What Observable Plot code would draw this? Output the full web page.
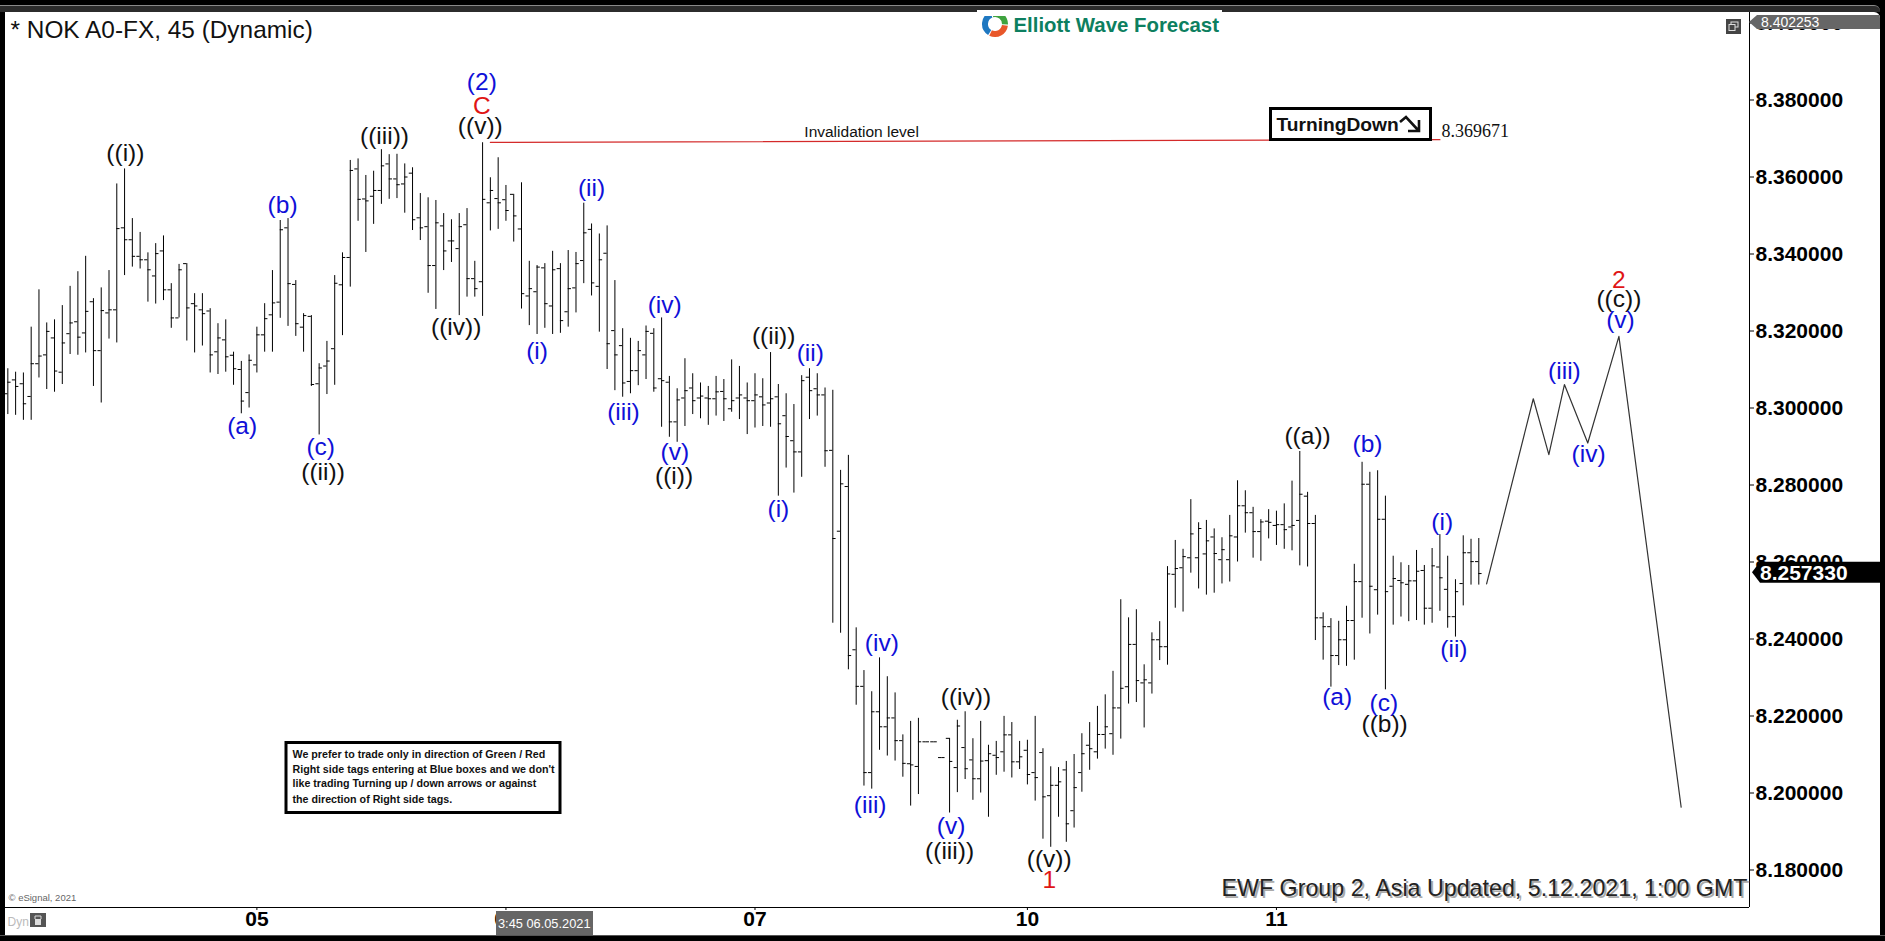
<!DOCTYPE html>
<html><head><meta charset="utf-8">
<script src="https://cdn.jsdelivr.net/npm/d3@7"></script>
<script src="https://cdn.jsdelivr.net/npm/@observablehq/plot@0.6"></script>
<style>
html,body{margin:0;padding:0;background:#000;width:1885px;height:941px;overflow:hidden}
#band{position:absolute;left:0;top:5px;width:1880px;height:7px;background:#2c2c2c;border-top:1px solid #8a8a8a;box-sizing:border-box;border-top-right-radius:6px}
#logoBack{position:absolute;left:977px;top:10px;width:245px;height:6px;background:#fff}
#foot{position:absolute;left:0;top:935px;width:1885px;height:1px;background:#555}
#chart{position:absolute;left:5px;top:12px}
#chart svg{display:block;border-bottom:0}
</style></head><body>
<div id="band"></div><div id="foot"></div><div id="chart"></div><div id="logoBack"></div>
<script>
const highs=[
8.3102,8.3093,8.3091,8.3210,8.3307,8.3221,8.3229,8.3266,8.3316,8.3354,
8.3394,8.3284,8.3312,8.3357,8.3582,8.3621,8.3492,8.3456,8.3403,8.3427,
8.3447,8.3323,8.3373,8.3375,8.3297,8.3297,8.3258,8.3219,8.3229,8.3145,
8.3121,8.3138,8.3210,8.3271,8.3357,8.3487,8.3492,8.3331,8.3245,8.3240,
8.3115,8.3173,8.3344,8.3403,8.3643,8.3647,8.3604,8.3615,8.3671,8.3658,
8.3659,8.3634,8.3624,8.3557,8.3546,8.3539,8.3505,8.3489,8.3505,8.3518,
8.3381,8.3689,8.3598,8.3650,8.3578,8.3555,8.3585,8.3381,8.3370,8.3375,
8.3407,8.3375,8.3409,8.3404,8.3532,8.3478,8.3452,8.3473,8.3331,8.3206,
8.3181,8.3173,8.3213,8.3206,8.3234,8.3082,8.3050,8.3128,8.3089,8.3065,
8.3056,8.3082,8.3074,8.3125,8.3108,8.3065,8.3089,8.3076,8.3144,8.3061,
8.3037,8.3009,8.3084,8.3102,8.3089,8.3052,8.3046,8.2838,8.2877,8.2429,
8.2318,8.2263,8.2351,8.2302,8.2260,8.2151,8.2186,8.2194,8.2133,8.2133,
8.2092,8.2142,8.2189,8.2211,8.2141,8.2186,8.2124,8.2134,8.2199,8.2183,
8.2134,8.2137,8.2199,8.2115,8.2068,8.2066,8.2082,8.2100,8.2154,8.2183,
8.2225,8.2255,8.2316,8.2502,8.2455,8.2476,8.2333,8.2416,8.2445,8.2588,
8.2656,8.2633,8.2762,8.2702,8.2708,8.2686,8.2663,8.2721,8.2811,8.2785,
8.2742,8.2710,8.2736,8.2732,8.2751,8.2810,8.2887,8.2781,8.2721,8.2468,
8.2453,8.2446,8.2485,8.2594,8.2859,8.2833,8.2837,8.2771,8.2615,8.2598,
8.2591,8.2630,8.2591,8.2635,8.2671,8.2615,8.2554,8.2668,8.2659,8.2661];
const lows=[
8.2983,8.2981,8.2968,8.2968,8.3078,8.3048,8.3041,8.3061,8.3139,8.3137,
8.3143,8.3056,8.3013,8.3179,8.3169,8.3344,8.3366,8.3361,8.3275,8.3270,
8.3279,8.3207,8.3234,8.3174,8.3143,8.3161,8.3091,8.3087,8.3093,8.3059,
8.2985,8.3000,8.3091,8.3145,8.3145,8.3233,8.3212,8.3186,8.3145,8.3056,
8.2930,8.3035,8.3059,8.3188,8.3314,8.3485,8.3404,8.3477,8.3529,8.3542,
8.3544,8.3506,8.3461,8.3435,8.3298,8.3256,8.3357,8.3378,8.3240,8.3288,
8.3288,8.3238,8.3460,8.3464,8.3485,8.3431,8.3257,8.3214,8.3191,8.3207,
8.3191,8.3194,8.3210,8.3247,8.3323,8.3291,8.3197,8.3100,8.3045,8.3028,
8.3037,8.3058,8.3074,8.3041,8.2950,8.2924,8.2911,8.2952,8.2983,8.2972,
8.2955,8.2979,8.2965,8.2989,8.2970,8.2931,8.2948,8.2952,8.2950,8.2771,
8.2844,8.2779,8.2820,8.2970,8.2979,8.2846,8.2441,8.2415,8.2320,8.2228,
8.2018,8.2010,8.2111,8.2096,8.2083,8.2041,8.1966,8.1996,8.2133,8.2133,
8.2092,8.1948,8.2001,8.2035,8.1981,8.2000,8.1937,8.2046,8.2054,8.2039,
8.2061,8.2021,8.1979,8.1880,8.1859,8.1937,8.1872,8.1909,8.2002,8.2059,
8.2088,8.2114,8.2098,8.2140,8.2231,8.2235,8.2169,8.2257,8.2344,8.2332,
8.2480,8.2470,8.2571,8.2530,8.2514,8.2519,8.2543,8.2548,8.2600,8.2675,
8.2610,8.2602,8.2660,8.2643,8.2633,8.2629,8.2590,8.2587,8.2396,8.2345,
8.2275,8.2331,8.2329,8.2345,8.2454,8.2413,8.2462,8.2268,8.2436,8.2457,
8.2445,8.2448,8.2436,8.2441,8.2472,8.2428,8.2405,8.2486,8.2540,8.2540];
const opens=[
8.3037,8.3073,8.3063,8.3030,8.3115,8.3138,8.3182,8.3093,8.3193,8.3224,
8.3195,8.3276,8.3149,8.3247,8.3255,8.3468,8.3437,8.3394,8.3385,8.3343,
8.3408,8.3307,8.3234,8.3375,8.3271,8.3255,8.3252,8.3146,8.3177,8.3137,
8.3100,8.3040,8.3112,8.3190,8.3242,8.3275,8.3468,8.3321,8.3210,8.3238,
8.3063,8.3109,8.3154,8.3320,8.3391,8.3621,8.3543,8.3550,8.3565,8.3634,
8.3595,8.3582,8.3610,8.3494,8.3471,8.3370,8.3473,8.3434,8.3414,8.3476,
8.3336,8.3328,8.3533,8.3544,8.3541,8.3555,8.3465,8.3291,8.3302,8.3364,
8.3265,8.3362,8.3250,8.3312,8.3383,8.3464,8.3316,8.3402,8.3201,8.3162,
8.3069,8.3097,8.3138,8.3194,8.3076,8.3067,8.2964,8.3026,8.3052,8.3026,
8.3026,8.3024,8.3043,8.2998,8.3026,8.3026,8.3019,8.3029,8.3013,8.3029,
8.2980,8.2915,8.2886,8.3080,8.3050,8.3034,8.2890,8.2680,8.2796,8.2372,
8.2277,8.2053,8.2211,8.2172,8.2195,8.2136,8.2076,8.2069,8.2133,8.2133,
8.2092,8.2142,8.2066,8.2118,8.2086,8.2037,8.2084,8.2098,8.2107,8.2151,
8.2081,8.2111,8.2053,8.2105,8.1993,8.2020,8.2060,8.1954,8.2053,8.2124,
8.2107,8.2152,8.2154,8.2221,8.2276,8.2386,8.2286,8.2286,8.2398,8.2380,
8.2568,8.2585,8.2611,8.2611,8.2621,8.2665,8.2606,8.2606,8.2665,8.2746,
8.2728,8.2679,8.2706,8.2695,8.2697,8.2691,8.2708,8.2771,8.2700,8.2455,
8.2432,8.2357,8.2398,8.2448,8.2549,8.2802,8.2528,8.2711,8.2537,8.2552,
8.2542,8.2551,8.2578,8.2480,8.2587,8.2529,8.2458,8.2544,8.2624,8.2601];
const closes=[
8.3067,8.3056,8.3011,8.3115,8.3135,8.3199,8.3096,8.3169,8.3221,8.3184,
8.3251,8.3149,8.3253,8.3255,8.3466,8.3437,8.3394,8.3385,8.3359,8.3401,
8.3307,8.3234,8.3359,8.3260,8.3265,8.3245,8.3138,8.3182,8.3133,8.3102,
8.3018,8.3124,8.3190,8.3232,8.3273,8.3463,8.3323,8.3219,8.3240,8.3061,
8.3104,8.3122,8.3324,8.3391,8.3617,8.3542,8.3538,8.3565,8.3629,8.3595,
8.3580,8.3600,8.3489,8.3468,8.3370,8.3481,8.3408,8.3434,8.3471,8.3336,
8.3310,8.3542,8.3565,8.3533,8.3513,8.3499,8.3297,8.3310,8.3366,8.3271,
8.3359,8.3227,8.3310,8.3375,8.3455,8.3325,8.3385,8.3167,8.3138,8.3065,
8.3097,8.3149,8.3199,8.3052,8.3071,8.2964,8.3021,8.3045,8.3019,8.3031,
8.3024,8.3042,8.3024,8.3019,8.3034,8.3019,8.3034,8.3008,8.3024,8.2959,
8.2926,8.2886,8.3071,8.3045,8.3034,8.2889,8.2661,8.2803,8.2357,8.2277,
8.2053,8.2211,8.2172,8.2195,8.2136,8.2077,8.2073,8.2133,8.2133,8.2133,
8.2092,8.2082,8.2174,8.2063,8.2037,8.2083,8.2102,8.2092,8.2151,8.2081,
8.2094,8.2048,8.2040,8.1990,8.2020,8.2029,8.1920,8.2014,8.2102,8.2115,
8.2152,8.2172,8.2221,8.2272,8.2386,8.2292,8.2294,8.2398,8.2380,8.2569,
8.2583,8.2614,8.2673,8.2687,8.2655,8.2622,8.2632,8.2668,8.2746,8.2728,
8.2679,8.2704,8.2703,8.2697,8.2684,8.2695,8.2776,8.2700,8.2455,8.2432,
8.2357,8.2398,8.2448,8.2549,8.2802,8.2537,8.2711,8.2523,8.2557,8.2546,
8.2551,8.2576,8.2480,8.2590,8.2559,8.2458,8.2523,8.2624,8.2601,8.2570];

const yTicks=[8.18,8.20,8.22,8.24,8.26,8.28,8.30,8.32,8.34,8.36,8.38,8.40];
const dayTicks=[33,65,97,132,164];
const dayLabels=["05","06","07","10","11"];

const projectionBar=[191,197,199,201,204,208,216];
const projectionPrice=[8.2543,8.3024,8.2879,8.3061,8.2909,8.3186,8.1963];

const blackText=["((i))","((iii))","((v))","((iv))","((ii))","((i))","((ii))","((iv))","((iii))","((v))","((a))","((b))","((c))"];
const blackBar=[16.1,49.4,61.7,58.6,41.5,86.6,99.4,124.1,122.0,134.8,168.0,177.9,208.0];
const blackPrice=[8.3658,8.3703,8.3729,8.3206,8.2829,8.2819,8.3182,8.2245,8.1845,8.1825,8.2924,8.2175,8.3279];

const blueText=["(a)","(b)","(c)","(i)","(ii)","(iii)","(iv)","(v)","(i)","(ii)","(iv)","(iii)","(v)","(a)","(b)","(c)","(i)","(ii)","(iii)","(iv)","(v)","(2)"];
const blueBar=[31.1,36.3,41.2,69.0,76.0,80.1,85.4,86.7,100.0,104.1,113.3,111.8,122.2,171.8,175.7,177.8,185.3,186.8,201.0,204.1,208.2,61.9];
const bluePrice=[8.2950,8.3524,8.2894,8.3145,8.3567,8.2985,8.3264,8.2881,8.2734,8.3138,8.2385,8.1965,8.1911,8.2245,8.2901,8.2230,8.2699,8.2370,8.3091,8.2877,8.3223,8.3843];

const redText=["C","1","2"];
const redBar=[61.9,134.8,208.0];
const redPrice=[8.3781,8.1771,8.3329];

const invalidationBar=[63,185];
const invalidationPrice=[8.3690,8.3697];
const lastPrice=8.25733;
const highPrice=8.402253;
const noteLines=["We prefer to trade only in direction of Green / Red","Right side tags entering at Blue boxes and we don't","like trading Turning up / down arrows or against","the direction of Right side tags."];

const bars=highs.map((h,i)=>({i:i+1,h,l:lows[i],o:opens[i],c:closes[i]}));
const proj=projectionBar.map((b,i)=>({b,p:projectionPrice[i]}));
const inval=invalidationBar.map((b,i)=>({b,p:invalidationPrice[i]}));
const lab=(t,b,p)=>t.map((s,i)=>({s,b:b[i],p:p[i]}));
const tickW=0.42;
const labelMark=(data,fill)=>Plot.text(data,{x:"b",y:"p",text:"s",fill,fontSize:24.5,dy:-1.5,textAnchor:"middle",lineAnchor:"middle"});
const chrome=(t,dx,dy,o={})=>Plot.text([t],{frameAnchor:"top-left",dx,dy,textAnchor:"start",lineAnchor:"middle",...o});

const plot=Plot.plot({
  width:1875,height:923,
  marginLeft:0,marginRight:131,marginTop:0,marginBottom:28,
  style:{background:"#fff",fontFamily:"'Liberation Sans',Arial,sans-serif",overflow:"hidden",color:"#000",borderTopRightRadius:"6px"},
  x:{type:"linear",domain:[0.7006,224.78],axis:null},
  y:{type:"linear",domain:[8.17026,8.40273],axis:null},
  marks:[
    Plot.axisY({anchor:"right",ticks:yTicks,tickFormat:d3.format(".6f"),fontSize:21,fontWeight:"bold",tickSize:4,tickPadding:2,label:null,fill:"#000",stroke:"#000"}),
    Plot.axisX({anchor:"bottom",ticks:dayTicks,tickFormat:d=>dayLabels[dayTicks.indexOf(d)],fontSize:21,fontWeight:"bold",tickSize:3,tickPadding:1,label:null,fill:"#000",stroke:"#000"}),
    Plot.ruleX([224.78],{stroke:"#000"}),
    Plot.ruleY([8.17026],{stroke:"#000"}),
    Plot.ruleX(bars,{x:"i",y1:"l",y2:"h",stroke:"#000",strokeWidth:1}),
    Plot.ruleY(bars,{y:"o",x1:d=>d.i-tickW,x2:"i",stroke:"#000",strokeWidth:1}),
    Plot.ruleY(bars,{y:"c",x1:"i",x2:d=>d.i+tickW,stroke:"#000",strokeWidth:1}),
    Plot.line(inval,{x:"b",y:"p",stroke:"#d42a2a",strokeWidth:1.3}),
    Plot.text(["Invalidation level"],{x:[110.7],y:[8.3718],fontSize:15.5,fill:"#111",textAnchor:"middle",lineAnchor:"middle"}),
    Plot.text(["8.369671"],{x:[185.2],y:[8.3718],fontSize:18,fontFamily:"'Liberation Serif',serif",fill:"#111",textAnchor:"start",lineAnchor:"middle"}),
    Plot.line(proj,{x:"b",y:"p",stroke:"#333",strokeWidth:1.2}),
    labelMark(lab(blackText,blackBar,blackPrice),"#111"),
    labelMark(lab(blueText,blueBar,bluePrice),"#1010d8"),
    labelMark(lab(redText,redBar,redPrice),"#e01515"),
    chrome("* NOK A0-FX, 45 (Dynamic)",5,18,{fontSize:24.4,fill:"#111"}),
    chrome("Elliott Wave Forecast",1008,13,{fontSize:20.4,fontWeight:"bold",fill:"#0d7f60"}),
    chrome("© eSignal, 2021",3,885,{fontSize:9.5,fill:"#666"}),
    chrome("Dyn",2,910,{fontSize:12,fill:"#bbb"}),
    chrome("EWF Group 2, Asia Updated, 5.12.2021, 1:00 GMT",1218,878,{fontSize:23.25,fill:"#aaa"}),
    chrome("EWF Group 2, Asia Updated, 5.12.2021, 1:00 GMT",1216,876,{fontSize:23.25,fill:"#222"}),
    ...noteLines.map((t,i)=>chrome(t,287,[742,757,771,787][i],{fontSize:10.7,fontWeight:"bold",fill:"#111"})),
    chrome("TurningDown",1271,112,{fontSize:19.2,fontWeight:"bold",fill:"#111"})
  ]
});
document.getElementById("chart").append(plot);

const sv=d3.select(plot);
const yS=plot.scale("y");
const box=(x,y,w,h,o)=>{const r=sv.append("rect").attr("x",x).attr("y",y).attr("width",w).attr("height",h);for(const k in o)r.attr(k,o[k]);return r;};
const label=(t,x,y,size,fill,weight)=>sv.append("text").text(t).attr("x",x).attr("y",y).attr("dy","0.36em").attr("text-anchor","start").attr("font-size",size).attr("fill",fill).attr("font-weight",weight||"normal");

// note and Turning Down frames
box(281,730.5,274,70,{fill:"none",stroke:"#000","stroke-width":3});
box(1265.5,96.5,160,31,{fill:"none",stroke:"#000","stroke-width":3});
sv.append("path").attr("d","M1395 110 L1401 105 L1413 118 M1414 108 V119 H1403").attr("fill","none").attr("stroke","#111").attr("stroke-width",2.6);

// logo
const arc=d3.arc().innerRadius(7).outerRadius(13);
[["#3fa33f",-0.25,1.6],["#e8572a",1.7,3.6],["#1f78c1",3.7,5.9]].forEach(([c,a,b])=>{
  sv.append("path").attr("transform","translate(990,12)").attr("d",arc({startAngle:a,endAngle:b})).attr("fill",c);
});

// top right window icon
box(1721,7,15,15,{fill:"#444"});
box(1726,10,7,5,{fill:"none",stroke:"#ddd"});
box(1724,12.5,6,6,{fill:"#444",stroke:"#ddd"});

// lock icon
box(25,901,16,14,{fill:"#555"});
box(30,907,6,6,{fill:"#ddd"});
sv.append("path").attr("d","M30 907 V904 H36 V907").attr("fill","none").attr("stroke","#ddd");

// crosshair date tag
box(491,899,97,24,{fill:"#666"});
label("3:45 06.05.2021",493,911,12.8,"#fff");

// price tags
const tag=(p,c,left,top,bottom,text,size,weight,tx)=>{
  const ym=(top+bottom)/2;
  sv.append("path").attr("d",`M${left-8} ${ym} L${left} ${top} H1875 V${bottom} H${left} Z`).attr("fill",c);
  label(text,tx,ym,size,"#fff",weight);
};
tag(highPrice,"#666",1752,3,17,d3.format(".6f")(highPrice),14,"normal",1756);
const yLast=yS.apply(lastPrice);
tag(lastPrice,"#000",1755,yLast-10,yLast+11,d3.format(".6f")(lastPrice),21,"bold",1755);
</script>
</body></html>
